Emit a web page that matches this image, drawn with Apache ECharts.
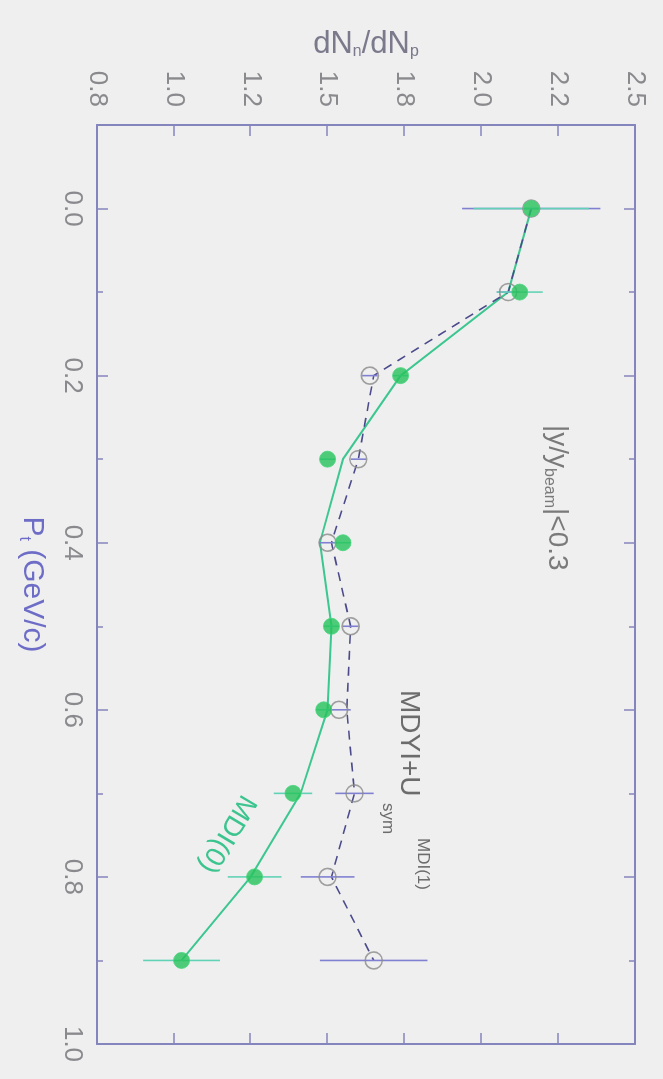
<!DOCTYPE html>
<html>
<head>
<meta charset="utf-8">
<script src="https://cdn.jsdelivr.net/npm/echarts@6/dist/echarts.min.js"></script>
<style>
  html, body { margin: 0; padding: 0; background: #efefef; overflow: hidden; }
  #wrap { width: 663px; height: 1079px; position: relative; overflow: hidden; }
  /* chart is drawn landscape, then turned a quarter clockwise like the scan */
  #chart { position: absolute; left: 0; top: 0; width: 1079px; height: 663px;
           transform-origin: 0 0; transform: translateX(663px) rotate(90deg); }
</style>
</head>
<body>
<div id="wrap"><div id="chart"></div></div>
<script>
var ptValues   = [0.0, 0.1, 0.2, 0.3, 0.4, 0.5, 0.6, 0.7, 0.8, 0.9];
var mdi0Points = [1.93, 1.90, 1.59, 1.40, 1.44, 1.41, 1.39, 1.31, 1.21, 1.02];
var mdi0Err    = [0.15, 0.06, 0.02, 0.02, 0.02, 0.02, 0.02, 0.05, 0.07, 0.10];
var mdyiPoints = [1.93, 1.87, 1.51, 1.48, 1.40, 1.46, 1.43, 1.47, 1.40, 1.52];
var mdyiErr    = [0.18, 0.03, 0.02, 0.02, 0.02, 0.02, 0.03, 0.05, 0.07, 0.14];
var mdi0Line   = [1.93, 1.87, 1.59, 1.44, 1.38, 1.41, 1.40, 1.33, 1.20, 1.02];
var mdyiLine   = [1.93, 1.87, 1.52, 1.48, 1.41, 1.46, 1.45, 1.47, 1.41, 1.52];
var ptMajor    = [0.0, 0.2, 0.4, 0.6, 0.8, 1.0];
var ptMinor    = [0.1, 0.3, 0.5, 0.7, 0.9];
var ratioLabels = ['0.8', '1.0', '1.2', '1.5', '1.8', '2.0', '2.2', '2.5'];

var axisCol = '#8585bd';
var labelCol = '#8a8a8e';
var font = 'Liberation Sans, Arial, sans-serif';

function pairs(ys) {
  return ptValues.map(function (x, i) { return [x, ys[i]]; });
}
function errData(ys, es) {
  return ptValues.map(function (x, i) { return [x, ys[i], es[i]]; });
}
function errSeries(ys, es, col) {
  return {
    type: 'custom',
    data: errData(ys, es),
    encode: { x: 0, y: 1 },
    z: 3,
    renderItem: function (params, api) {
      var x = api.value(0), y = api.value(1), e = api.value(2);
      var a = api.coord([x, y - e]);
      var b = api.coord([x, y + e]);
      return {
        type: 'line',
        shape: { x1: a[0], y1: a[1], x2: b[0], y2: b[1] },
        style: { stroke: col, lineWidth: 1.6 }
      };
    }
  };
}

function ptAxis(pos, ticks, len, main) {
  return {
    type: 'value', position: pos, min: -0.1, max: 1.0, interval: 0.1,
    axisLine: { show: main, onZero: false, lineStyle: { color: axisCol, width: 2 } },
    axisTick: { show: true, inside: true, length: len, customValues: ticks,
                lineStyle: { color: axisCol, width: 1.5 } },
    axisLabel: { show: main && pos === 'bottom', customValues: ptMajor, margin: 12,
                 color: labelCol, fontSize: 26, fontFamily: font,
                 formatter: function (v) { return v.toFixed(1); } },
    splitLine: { show: false },
    name: main && pos === 'bottom' ? 'P{s|t} (GeV/c)' : '',
    nameLocation: 'middle', nameGap: 49,
    nameTextStyle: { color: '#6d6dc8', fontSize: 30, fontFamily: font,
                     rich: { s: { fontSize: 16, color: '#6d6dc8', fontFamily: font, padding: [16, 0, 0, 0] } } }
  };
}

function ratioAxis(pos) {
  var left = pos === 'left';
  return {
    type: 'value', position: pos, min: 0.8, max: 2.2, interval: 0.2,
    axisLine: { show: true, onZero: false, lineStyle: { color: axisCol, width: 2 } },
    axisTick: { show: true, inside: true, length: 11, lineStyle: { color: axisCol, width: 1.5 } },
    axisLabel: { show: left, margin: 18, color: labelCol, fontSize: 26, fontFamily: font,
                 formatter: function (v) { return ratioLabels[Math.round((v - 0.8) / 0.2)]; } },
    splitLine: { show: false },
    name: left ? 'dN{s|n}/dN{s|p}' : '',
    nameLocation: 'middle', nameGap: 64,
    nameTextStyle: { color: '#7a7a8c', fontSize: 31, fontFamily: font, padding: [0, 0, 0, 0],
                     rich: { s: { fontSize: 16, color: '#7a7a8c', fontFamily: font, padding: [16, 0, 0, 0] } } }
  };
}

var chart = echarts.init(document.getElementById('chart'));
chart.setOption({
  backgroundColor: 'transparent',
  animation: false,
  grid: { left: 125, right: 35, top: 28, bottom: 97 },
  xAxis: [
    ptAxis('bottom', ptMajor, 11, true),
    ptAxis('bottom', ptMinor, 6, false),
    ptAxis('top', ptMajor, 11, true),
    ptAxis('top', ptMinor, 6, false)
  ],
  yAxis: [ratioAxis('left'), ratioAxis('right')],
  graphic: [
    { type: 'text', left: 425, top: 92, style: {
        text: '|y/y{s|beam}|<0.3', fill: '#7a7a7a', font: '28px ' + font,
        rich: { s: { fontSize: 16, fill: '#7a7a7a', padding: [16, 0, 0, 0] } } } },
    { type: 'text', left: 690, top: 240, style: {
        text: 'MDYI+U', fill: '#6c6c6c', font: '28px ' + font } },
    { type: 'text', left: 803, top: 267, style: {
        text: 'sym', fill: '#6c6c6c', font: '17px ' + font } },
    { type: 'text', left: 838, top: 232, style: {
        text: 'MDI(1)', fill: '#6c6c6c', font: '17px ' + font } },
    { type: 'text', x: 834, y: 436, rotation: -0.54, style: {
        text: 'MDI(0)', fill: '#3cc48e', font: '28px ' + font,
        align: 'center', verticalAlign: 'middle' } }
  ],
  series: [
    { type: 'line', data: pairs(mdi0Line), showSymbol: false, z: 2,
      lineStyle: { color: '#3cc690', width: 2 } },
    { type: 'line', data: pairs(mdyiLine), showSymbol: false, z: 2,
      lineStyle: { color: '#4b4b8c', width: 1.6, type: [9, 7] } },
    errSeries(mdyiPoints, mdyiErr, '#8080d2'),
    errSeries(mdi0Points, mdi0Err, '#62d2b6'),
    { type: 'scatter', data: pairs(mdyiPoints), symbol: 'circle', symbolSize: 17, z: 4,
      itemStyle: { color: 'rgba(0,0,0,0)', borderColor: '#8a8a8a', borderWidth: 1.6 } },
    { type: 'scatter', data: pairs(mdi0Points), symbol: 'circle', symbolSize: 16, z: 5,
      itemStyle: { color: '#25c25a', borderColor: '#45d47a', borderWidth: 1 } }
  ]
});
</script>
</body>
</html>
